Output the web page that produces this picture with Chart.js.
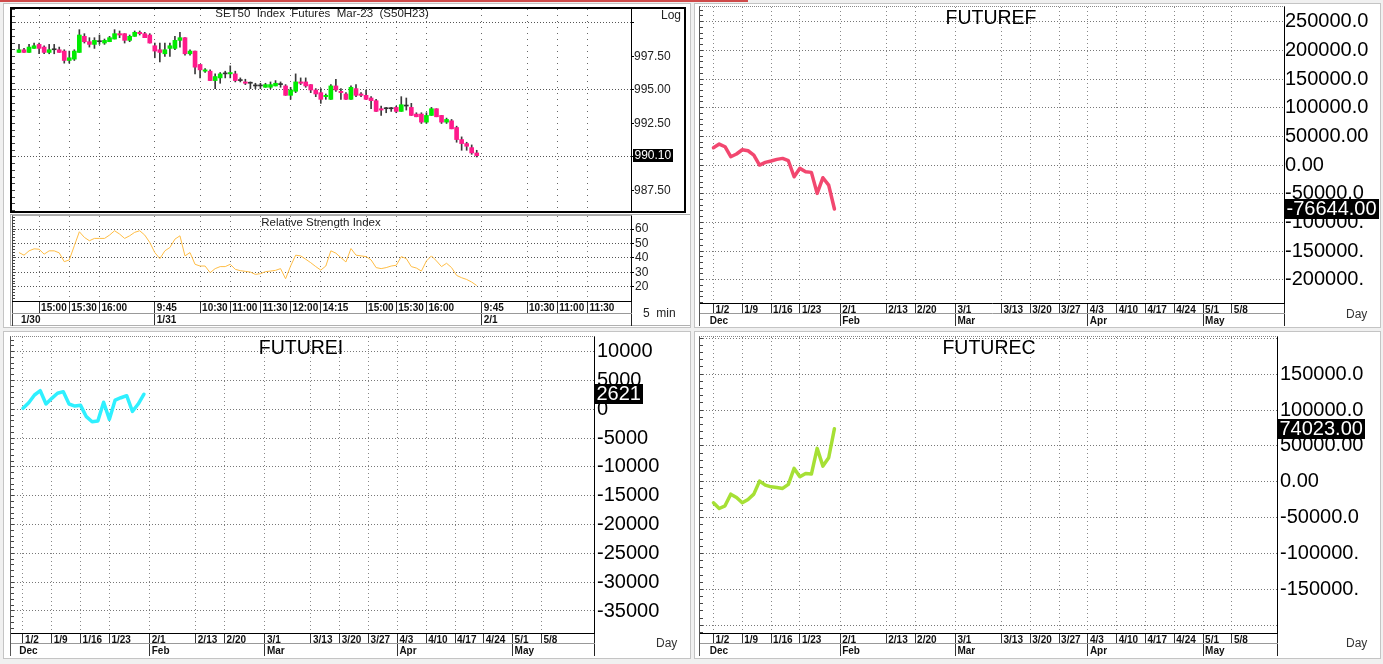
<!DOCTYPE html>
<html><head><meta charset="utf-8">
<script src="https://cdn.jsdelivr.net/npm/chart.js@4.4.0/dist/chart.umd.min.js"></script>
<style>
html,body{margin:0;padding:0;background:#f0f0f0;width:1383px;height:664px;overflow:hidden;font-family:"Liberation Sans",Arial,sans-serif;}
.abs{position:absolute;box-sizing:border-box;}
.panel{position:absolute;background:#fff;border:1px solid #c4c4c4;box-sizing:border-box;}
canvas{position:absolute;}
.txt{position:absolute;white-space:pre;color:#222;line-height:1;}
.c{transform:translate(-50%,-50%);}
.m{transform:translate(0,-50%);}
</style></head><body>
<div class="abs" style="left:0;top:0;width:748px;height:2px;background:#cf4a4a"></div>
<div class="panel" style="left:3px;top:3px;width:688px;height:325px"></div>
<div class="panel" style="left:694px;top:3px;width:687px;height:325px"></div>
<div class="panel" style="left:3px;top:331px;width:688px;height:328px"></div>
<div class="panel" style="left:694px;top:331px;width:687px;height:328px"></div>

<div class="abs" style="left:10px;top:7px;width:676px;height:206px;border:2px solid #000"></div>
<div class="abs" style="left:10px;top:214px;width:680px;height:112px;border:1px solid #b0b0b0;border-right:none"></div>
<div class="abs" style="left:12px;top:215px;width:620px;height:111px;border-left:1px solid #444;border-right:1px solid #222;border-top:1px solid #aaa"></div>
<div class="abs" style="left:699px;top:6px;width:586px;height:320px;border-left:1px solid #555;border-right:1px solid #222;border-top:1px dotted #888"></div>
<div class="abs" style="left:10px;top:336px;width:585px;height:320px;border-left:1px solid #555;border-right:1px solid #222;border-top:1px dotted #888"></div>
<div class="abs" style="left:699px;top:336px;width:579px;height:320px;border-left:1px solid #555;border-right:1px solid #222;border-top:1px dotted #888"></div>

<canvas id="cCandle" width="690" height="214" style="left:0;top:0;width:690px;height:214px"></canvas>
<canvas id="cRsi" width="690" height="114" style="left:0;top:214px;width:690px;height:114px"></canvas>
<canvas id="cF" width="688" height="325" style="left:695px;top:3px;width:688px;height:325px"></canvas>
<canvas id="cI" width="687" height="327" style="left:3px;top:331px;width:687px;height:327px"></canvas>
<canvas id="cC" width="688" height="327" style="left:695px;top:331px;width:688px;height:327px"></canvas>

<div class="txt c" style="left:322px;top:14px;font-size:11.5px">SET50  Index  Futures  Mar-23  (S50H23)</div>
<div class="txt m" style="left:661px;top:15px;font-size:12px">Log</div>
<div class="txt c" style="left:321px;top:223px;font-size:11.5px">Relative Strength Index</div>
<div class="txt m" style="left:643px;top:313px;font-size:12px">5  min</div>
<div class="txt c" style="left:991px;top:18px;font-size:19.5px;color:#000">FUTUREF</div>
<div class="txt c" style="left:301px;top:348px;font-size:19.5px;color:#000">FUTUREI</div>
<div class="txt c" style="left:989px;top:348px;font-size:19.5px;color:#000">FUTUREC</div>
<div class="txt m" style="left:1346px;top:314px;font-size:12px;color:#333">Day</div>
<div class="txt m" style="left:656px;top:643px;font-size:12px;color:#333">Day</div>
<div class="txt m" style="left:1346px;top:643px;font-size:12px;color:#333">Day</div>

<script>
// ---------------- DATA ----------------
// 5-minute candles, S50H23, 1/30 14:40 .. 1/31 16:50
const opens  = [997.8,998.0,997.8,998.1,998.4,998.2,997.8,998.0,998.0,997.9,997.2,997.3,997.8,999.0,998.6,998.4,998.6,998.5,998.6,998.8,999.2,999.2,998.7,999.0,999.3,999.2,999.1,998.3,998.0,997.7,998.1,998.1,998.7,998.9,997.7,997.9,996.9,996.4,996.4,995.7,995.9,996.2,996.2,996.2,995.7,995.6,995.5,995.3,995.3,995.2,995.2,995.3,995.4,995.3,994.6,994.9,995.6,995.6,995.4,995.0,994.8,994.5,994.3,995.3,994.9,994.7,994.3,995.1,994.7,994.6,994.4,994.2,993.6,993.6,993.6,993.7,993.4,993.8,993.7,993.2,993.2,992.6,993.1,993.6,993.1,992.6,992.7,992.2,991.3,991.0,990.7,990.3];
const highs  = [998.4,998.1,998.4,998.5,998.5,998.3,998.4,998.4,998.2,998.0,997.9,998.0,999.5,999.2,998.9,998.9,999.1,998.8,999.0,999.5,999.4,999.2,999.1,999.4,999.4,999.3,999.2,998.5,998.5,998.5,998.5,999.0,999.3,998.9,998.0,997.9,996.9,996.6,996.5,996.2,996.3,996.4,996.8,996.4,995.9,995.8,995.6,995.5,995.5,995.5,995.6,995.7,995.6,995.4,995.2,996.2,995.9,995.9,995.4,995.1,995.1,994.7,995.4,995.8,995.1,994.8,995.3,995.4,994.8,995.0,994.5,994.3,993.8,993.7,993.7,993.8,994.5,994.4,994.0,993.3,993.3,993.3,993.7,993.6,993.1,992.9,992.8,992.3,991.5,991.1,990.9,990.5];
const lows   = [997.8,997.8,997.8,998.1,997.7,997.7,997.7,997.7,997.8,997.0,997.0,997.2,997.8,998.5,998.2,998.1,998.4,998.4,998.6,998.8,998.9,998.5,998.6,999.0,999.1,998.9,998.5,997.4,997.1,997.5,997.5,998.0,998.2,997.6,997.6,996.2,995.9,996.3,995.7,995.1,995.5,995.9,995.9,995.6,995.6,995.4,995.1,995.1,995.1,995.2,995.1,995.3,995.2,994.6,994.3,994.8,995.4,995.2,994.8,994.5,994.0,994.3,994.3,994.9,994.3,994.3,994.3,994.5,994.5,994.3,993.6,993.4,993.1,993.3,993.4,993.3,993.4,993.5,993.1,993.0,992.5,992.5,993.1,993.0,992.5,992.5,992.1,991.1,990.5,990.5,990.2,990.0];
const closes = [998.0,997.8,998.2,998.3,998.1,997.8,998.0,998.0,997.8,997.2,997.4,997.9,999.1,998.6,998.4,998.7,998.6,998.7,998.9,999.2,999.1,998.7,999.0,999.3,999.2,998.9,998.5,997.9,997.8,998.0,998.3,998.7,998.9,997.7,997.9,996.7,996.5,996.5,995.7,996.0,996.2,996.2,996.3,995.7,995.7,995.5,995.5,995.3,995.3,995.4,995.4,995.5,995.4,994.6,995.0,995.6,995.5,995.3,995.0,994.7,994.3,994.6,995.3,995.0,994.8,994.3,995.2,994.6,994.6,994.3,994.2,993.4,993.5,993.6,993.6,993.4,993.9,993.8,993.1,993.0,992.6,993.1,993.6,993.0,992.6,992.8,992.1,991.3,991.0,990.8,990.3,990.1];
const rsi = [43.7,41.9,44.9,46.3,46.0,42.6,44.9,44.9,43.5,37.4,
             38.6,48.4,58.1,54.2,51.9,53.5,53.5,53.5,55.8,58.8,
             56.5,53.5,55.3,57.7,58.8,55.8,50.7,43.7,39.5,44.9,
             47.2,53.0,55.3,41.4,43.7,35.6,34.4,34.4,29.8,32.6,
             34.0,34.0,35.6,32.1,31.2,30.7,30.2,28.6,29.1,30.5,
             30.9,31.4,32.6,25.6,34.4,41.9,41.4,39.1,36.7,34.0,
             31.6,34.4,44.9,43.3,40.2,37.2,46.5,41.9,41.4,40.9,
             38.6,33.3,32.6,33.3,34.4,34.9,40.9,39.5,34.0,33.0,
             30.9,37.9,41.4,37.9,34.0,36.3,33.3,27.9,26.3,25.1,
             23.3,20.9];
const timeTickBars   = [4,10,16,27,36,42,48,54,60,69,75,81,92,101,107,113];
const timeTickLabels = ['15:00','15:30','16:00','9:45','10:30','11:00','11:30','12:00','14:15','15:00','15:30','16:00','9:45','10:30','11:00','11:30'];
const sessionBars    = [0,27,92];
const sessionLabels  = ['1/30','1/31','2/1'];
const priceTicks = [987.5,990,992.5,995,997.5,1000];
const rsiTicks   = [20,30,40,50,60];

// daily series (trading day index, 1/2 = 0)
const days    = ['1/2','1/3','1/4','1/5','1/6','1/9','1/10','1/11','1/12','1/13','1/16','1/17','1/18','1/19','1/20','1/23','1/24','1/25','1/26','1/27','1/30','1/31'];
const futureF = [30200,36600,31900,14500,19200,26700,24900,17400,0,4600,7000,9900,11600,7500,-20400,-5800,-11600,-12800,-49400,-22100,-34900,-76644];
const futureI = [170,1150,2480,3230,920,1910,2780,3060,920,570,690,-1280,-2150,-2030,1220,-1740,1610,2010,2360,-350,920,2621];
const futureC = [-29300,-37200,-33500,-17200,-21800,-29300,-24600,-17200,1000,-4600,-7000,-7800,-9200,-3600,18700,7000,11700,10800,46600,21900,33500,74023];
const dateTickDays   = [0,5,10,15,22,30,35,42,50,55,60,65,70,75,80,85,90];
const dateTickLabels = ['1/2','1/9','1/16','1/23','2/1','2/13','2/20','3/1','3/13','3/20','3/27','4/3','4/10','4/17','4/24','5/1','5/8'];
const monthDays   = [-1,22,42,65,85];
const monthLabels = ['Dec','Feb','Mar','Apr','May'];
const ticksF = [-200000,-150000,-100000,-50000,0,50000,100000,150000,200000,250000];
const ticksI = [-35000,-30000,-25000,-20000,-15000,-10000,-5000,0,5000,10000];
const ticksC = [-200000,-150000,-100000,-50000,0,50000,100000,150000,200000];
// minor tick step on the left edge of each panel
const minorPrice = 0.5, minorRsi = 2, minorF = 10000, minorI = 1000, minorC = 10000;

// ---------------- STYLE ----------------
const ARIAL = "'Liberation Sans', Arial, sans-serif";
const LBL = {family: ARIAL, size: 10, weight: 'bold'};
const GREEN = '#00ec00', PINK = '#ff1a8c', WICK = '#3a3a3a', DOJI = '#333333';
const CLEAR = 'rgba(0,0,0,0)';
Chart.defaults.font.family = ARIAL;

const setTicks = vals => s => { s.ticks = vals.map(v => ({value: v})); };
const stepTicks = step => s => {
  const out = [];
  for (let v = Math.ceil(s.min / step) * step; v <= s.max; v += step) out.push({value: v});
  s.ticks = out;
};
const fit = size => s => {
  if (s.isHorizontal()) s.height = size; else s.width = size;
  s.paddingLeft = 0; s.paddingRight = 0; s.paddingTop = 0; s.paddingBottom = 0;
};
const minorAxis = (min, max, step) => ({
  type: 'linear', position: 'left', min, max, bounds: 'data',
  afterBuildTicks: stepTicks(step), afterFit: fit(0),
  grid: {drawOnChartArea: false, drawTicks: true, tickLength: -3, tickColor: '#444'},
  border: {display: false},
  ticks: {display: false, autoSkip: false}
});

const lastBox = {
  id: 'lastBox',
  afterDraw(chart, args, o) {
    if (!o || o.value === undefined) return;
    const ctx = chart.ctx, area = chart.chartArea;
    const y = chart.scales.y.getPixelForValue(o.value);
    ctx.save();
    ctx.font = o.size + 'px ' + ARIAL;
    const w = ctx.measureText(o.text).width;
    const x = area.right + o.dx;
    ctx.fillStyle = '#000';
    ctx.fillRect(x, Math.round(y - o.h / 2), Math.ceil(w) + 3, o.h);
    ctx.fillStyle = '#fff';
    ctx.textBaseline = 'middle';
    ctx.fillText(o.text, x + 1.5, y + 0.5);
    ctx.restore();
  }
};

const base = {
  responsive: false, devicePixelRatio: 1, animation: false,
  plugins: {legend: {display: false}, tooltip: {enabled: false}}
};

// ---------------- CANDLES ----------------
const BAR_MIN = -1.39, BAR_MAX = 121.67;
new Chart(document.getElementById('cCandle'), {
  type: 'bar',
  data: {datasets: [
    {data: opens.map((o, i) => ({x: i, y: [o, closes[i]]})),
     backgroundColor: opens.map((o, i) => closes[i] > o ? GREEN : (closes[i] < o ? PINK : DOJI)),
     barThickness: 4, minBarLength: 1, grouped: false, order: 0, borderWidth: 0},
    {data: lows.map((l, i) => ({x: i, y: [l, highs[i]]})),
     backgroundColor: WICK, barThickness: 1, grouped: false, order: 1, borderWidth: 0}
  ]},
  options: Object.assign({}, base, {
    layout: {padding: {left: 12, top: 9, right: 0, bottom: 3}, autoPadding: false},
    plugins: Object.assign({}, base.plugins, {lastBox: {value: closes[closes.length - 1], text: closes[closes.length - 1].toFixed(2), size: 12, h: 13, dx: 2}}),
    scales: {
      x: {type: 'linear', min: BAR_MIN, max: BAR_MAX, bounds: 'data', offset: false,
          afterBuildTicks: setTicks(timeTickBars), afterFit: fit(0),
          grid: {color: '#666', offset: false, drawTicks: false},
          border: {display: false, dash: [1, 5]},
          ticks: {display: false, autoSkip: false}},
      y: {type: 'linear', position: 'right', min: 985.97, max: 1001.04, bounds: 'data',
          afterBuildTicks: setTicks(priceTicks), afterFit: fit(59),
          grid: {color: c => (c.tick && c.tick.value % 5 === 0) ? '#555' : CLEAR, tickLength: 3, tickColor: '#000'},
          border: {display: true, color: '#000', dash: [1, 2]},
          ticks: {autoSkip: false, padding: 0, color: '#222', font: {size: 12},
                  callback: v => (v === 990 || v === 1000) ? '' : v.toFixed(2)}},
      yl: minorAxis(985.97, 1001.04, minorPrice)
    }
  }),
  plugins: [lastBox]
});

// ---------------- RSI ----------------
new Chart(document.getElementById('cRsi'), {
  type: 'line',
  data: {datasets: [{data: rsi.map((v, i) => ({x: i, y: v})), borderColor: '#ffbd45', borderWidth: 1, pointRadius: 0, tension: 0}]},
  options: Object.assign({}, base, {
    layout: {padding: {left: 12, top: 2, right: 0, bottom: 3}, autoPadding: false},
    scales: {
      x: {type: 'linear', position: 'bottom', weight: 0, min: BAR_MIN, max: BAR_MAX, bounds: 'data', offset: false,
          afterBuildTicks: setTicks(timeTickBars), afterFit: fit(12),
          grid: {color: '#777', offset: false, tickLength: 12, tickColor: '#333'},
          border: {display: true, color: '#000', dash: [1, 4]},
          ticks: {autoSkip: false, maxRotation: 0, minRotation: 0, align: 'start', labelOffset: 2, padding: -11,
                  font: LBL, color: '#111', callback: (v, i) => timeTickLabels[i]}},
      x2: {type: 'linear', axis: 'x', position: 'bottom', weight: 1, min: BAR_MIN, max: BAR_MAX, bounds: 'data', offset: false,
          afterBuildTicks: setTicks(sessionBars), afterFit: fit(12),
          grid: {drawOnChartArea: false, offset: false, tickLength: 12, tickColor: c => c.index === 0 ? CLEAR : '#333'},
          border: {display: true, color: '#999'},
          ticks: {autoSkip: false, maxRotation: 0, minRotation: 0, align: 'start', labelOffset: 2, padding: -11,
                  font: LBL, color: '#111', callback: (v, i) => sessionLabels[i]}},
      y: {type: 'linear', position: 'right', min: 10.2, max: 69, bounds: 'data',
          afterBuildTicks: setTicks(rsiTicks), afterFit: fit(59),
          grid: {color: '#555', tickLength: 3, tickColor: '#000'},
          border: {display: true, color: '#000', dash: [1, 2]},
          ticks: {autoSkip: false, padding: 1, color: '#222', font: {size: 12}, callback: v => String(v)}},
      yl: minorAxis(10.2, 69, minorRsi)
    }
  })
});

// ---------------- DAILY PANELS ----------------
function dailyChart(id, values, color, cfg) {
  const last = values[values.length - 1];
  return new Chart(document.getElementById(id), {
    type: 'line',
    data: {datasets: [{data: values.map((v, i) => ({x: i, y: v})), borderColor: color, borderWidth: 3.5,
                       pointRadius: 0, tension: 0, borderJoinStyle: 'round', borderCapStyle: 'round'}]},
    options: Object.assign({}, base, {
      layout: {padding: cfg.pad, autoPadding: false},
      plugins: Object.assign({}, base.plugins, {lastBox: {value: last, text: cfg.fmtBox(last), size: 20, h: 20, dx: 1}}),
      scales: {
        x: {type: 'linear', position: 'bottom', weight: 0, min: cfg.xMin, max: cfg.xMax, bounds: 'data', offset: false,
            afterBuildTicks: setTicks(dateTickDays), afterFit: fit(10),
            grid: {color: '#888', offset: false, tickLength: 10, tickColor: '#333'},
            border: {display: true, color: '#000', dash: [1, 3]},
            ticks: {autoSkip: false, maxRotation: 0, minRotation: 0, align: 'start', labelOffset: 2, padding: -9,
                    font: LBL, color: '#111', callback: (v, i) => dateTickLabels[i]}},
        x2: {type: 'linear', axis: 'x', position: 'bottom', weight: 1, min: cfg.xMin, max: cfg.xMax, bounds: 'data', offset: false,
            afterBuildTicks: setTicks(monthDays), afterFit: fit(13),
            grid: {drawOnChartArea: false, offset: false, tickLength: 13, tickColor: c => c.index === 0 ? CLEAR : '#333'},
            border: {display: true, color: '#999'},
            ticks: {autoSkip: false, maxRotation: 0, minRotation: 0, align: 'start', labelOffset: 2, padding: -11,
                    font: LBL, color: '#111', callback: (v, i) => monthLabels[i]}},
        y: {type: 'linear', position: 'right', min: cfg.yMin, max: cfg.yMax, bounds: 'data',
            afterBuildTicks: setTicks(cfg.yTicks), afterFit: fit(cfg.yWidth),
            grid: {color: '#777', drawTicks: false},
            border: {display: true, color: '#000', dash: [1, 2]},
            ticks: {autoSkip: false, padding: cfg.lblPad, color: '#000', font: {size: 20}, callback: cfg.fmtTick}},
        yl: minorAxis(cfg.yMin, cfg.yMax, cfg.minor)
      }
    }),
    plugins: [lastBox]
  });
}
const fmt8 = v => v.toFixed(2).slice(0, 8);

dailyChart('cF', futureF, '#f2476f', {
  pad: {left: 5, top: 4, right: 0, bottom: 2}, xMin: -2.34, xMax: 99.05,
  yMin: -240600, yMax: 275600, yTicks: ticksF, yWidth: 99, lblPad: 1, minor: minorF,
  fmtTick: v => fmt8(v), fmtBox: v => v.toFixed(2)
});
dailyChart('cI', futureI, '#2ff0ff', {
  pad: {left: 8, top: 6, right: 0, bottom: 2}, xMin: -2.08, xMax: 99.13,
  yMin: -38820, yMax: 12550, yTicks: ticksI, yWidth: 96, lblPad: 3, minor: minorI,
  fmtTick: v => String(v), fmtBox: v => String(v)
});
dailyChart('cC', futureC, '#a6e035', {
  pad: {left: 5, top: 6, right: 0, bottom: 2}, xMin: -2.34, xMax: 97.83,
  yMin: -210700, yMax: 201800, yTicks: ticksC, yWidth: 106, lblPad: 3, minor: minorC,
  fmtTick: v => (Math.abs(v) === 200000 ? '' : fmt8(v)), fmtBox: v => v.toFixed(2)
});
</script>
</body></html>
